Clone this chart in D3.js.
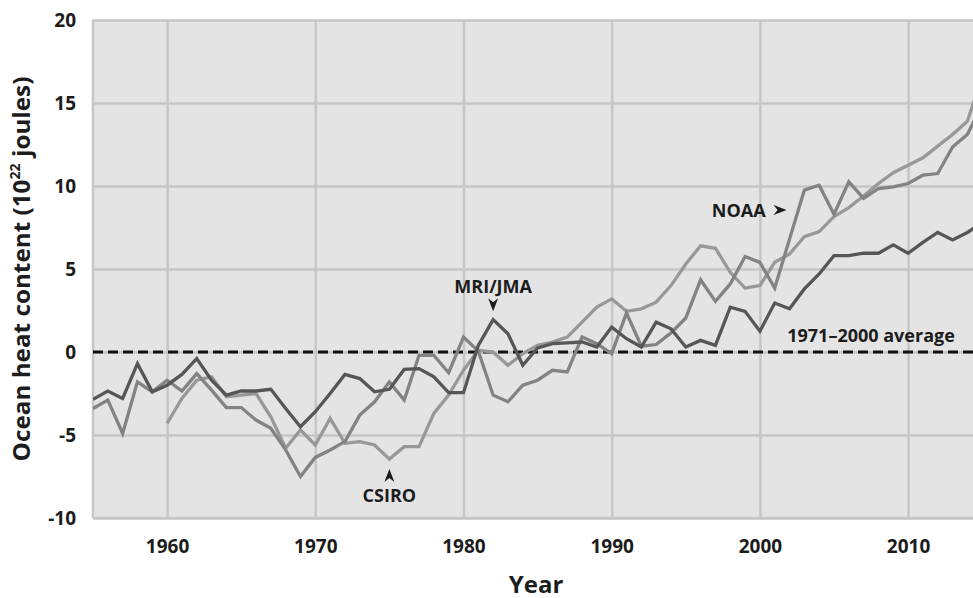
<!DOCTYPE html>
<html>
<head>
<meta charset="utf-8">
<script src="https://cdn.jsdelivr.net/npm/d3@7"></script>
<style>
  html, body { margin: 0; padding: 0; background: #fff; }
  svg { display: block; font-family: "Open Sans", "DejaVu Sans", sans-serif; }
</style>
</head>
<body>
<svg id="chart" width="973" height="598"></svg>
<script>
// ── Data (10^22 joules) ──────────────────────────────────────────────────────

const mriStart   = 1955;
const noaaStart  = 1955;
const csiroStart = 1960;

const mriJma = [
  -2.85, -2.35, -2.8, -0.7, -2.4, -2.0, -1.35, -0.4, -1.7, -2.6,     // 1955-64
  -2.35, -2.35, -2.25, -3.4, -4.5, -3.6, -2.5, -1.35, -1.6, -2.4,    // 1965-74
  -2.25, -1.05, -1.0, -1.5, -2.45, -2.45, 0.4, 1.95, 1.1, -0.8,      // 1975-84
  0.25, 0.5, 0.55, 0.6, 0.3, 1.5, 0.8, 0.3, 1.8, 1.4,                // 1985-94
  0.3, 0.7, 0.4, 2.7, 2.45, 1.25, 2.95, 2.6, 3.8, 4.7,               // 1995-04
  5.8, 5.8, 5.95, 5.95, 6.45, 5.95, 6.6, 7.2, 6.75, 7.2, 7.8         // 2005-15
];

const noaa = [
  -3.4, -2.9, -4.9, -1.8, -2.4, -1.7, -2.35, -1.3, -2.3, -3.35,      // 1955-64
  -3.35, -4.1, -4.6, -5.9, -7.5, -6.35, -5.9, -5.4, -3.8, -3.0,      // 1965-74
  -1.8, -2.9, -0.2, -0.2, -1.25, 0.9, 0.05, -2.6, -3.0, -2.0,        // 1975-84
  -1.7, -1.1, -1.2, 0.9, 0.5, -0.1, 2.35, 0.35, 0.45, 1.15,          // 1985-94
  2.05, 4.35, 3.05, 4.1, 5.75, 5.4, 3.85, 6.8, 9.75, 10.05,          // 1995-04
  8.3, 10.25, 9.25, 9.85, 9.95, 10.15, 10.65, 10.75, 12.35, 13.1, 14.9 // 2005-15
];

const csiro = [
  -4.3, -2.8, -1.7, -1.5, -2.7, -2.6, -2.5, -3.9, -5.8, -4.7,        // 1960-69
  -5.6, -4.0, -5.5, -5.4, -5.6, -6.45, -5.7, -5.7, -3.7, -2.6,       // 1970-79
  -1.1, 0.1, 0.0, -0.8, -0.1, 0.4, 0.6, 0.9, 1.8, 2.7,               // 1980-89
  3.2, 2.45, 2.6, 3.0, 4.0, 5.3, 6.4, 6.25, 4.8, 3.85,               // 1990-99
  4.0, 5.4, 5.9, 6.95, 7.25, 8.15, 8.7, 9.4, 10.15, 10.8,            // 2000-09
  11.25, 11.7, 12.4, 13.1, 13.9, 16.6                                // 2010-15
];

const xTicks = [1960, 1970, 1980, 1990, 2000, 2010];
const yTicks = [-10, -5, 0, 5, 10, 15, 20];
const averageValue = 0;

// ── Layout ───────────────────────────────────────────────────────────────────

const W = 973, H = 598;
const margin = { top: 20, right: 0, bottom: 80, left: 93 };
const iw = W - margin.left - margin.right;
const ih = H - margin.top - margin.bottom;

const INK  = '#1c1c1c';
const GRID = '#c6c6c6';

const svg = d3.select('#chart');
const g = svg.append('g').attr('transform', `translate(${margin.left},${margin.top})`);

const x = d3.scaleLinear().domain([1955, 2014.38]).range([0, iw]);
const y = d3.scaleLinear().domain([-10, 20]).range([ih, 0]);

// Plot background
g.append('rect').attr('width', iw).attr('height', ih).attr('fill', '#e4e4e4');

// Horizontal grid + y labels
g.append('g')
  .call(d3.axisLeft(y).tickValues(yTicks).tickSize(-iw).tickPadding(17).tickFormat(d => String(d)))
  .call(a => a.select('.domain').remove())
  .call(a => a.selectAll('line').attr('stroke', GRID).attr('stroke-width', 2.5))
  .call(a => a.selectAll('text')
    .attr('fill', INK).attr('font-size', 19).attr('font-weight', 700)
    .attr('font-family', '"Open Sans", sans-serif'));

// Vertical grid + x labels
g.append('g')
  .attr('transform', `translate(0,${ih})`)
  .call(d3.axisBottom(x).tickValues(xTicks).tickSize(-ih).tickPadding(22).tickFormat(d => String(d)))
  .call(a => a.select('.domain').remove())
  .call(a => a.selectAll('line').attr('stroke', GRID).attr('stroke-width', 2.5))
  .call(a => a.selectAll('text')
    .attr('fill', INK).attr('font-size', 19).attr('font-weight', 700)
    .attr('font-family', '"Open Sans", sans-serif'));

// Left frame
g.append('line')
  .attr('x1', x(1955)).attr('x2', x(1955))
  .attr('y1', y(-10)).attr('y2', y(20))
  .attr('stroke', GRID).attr('stroke-width', 2.5);

// Bottom frame redrawn over the verticals
g.append('line').attr('x1', 0).attr('x2', iw).attr('y1', y(-10)).attr('y2', y(-10))
  .attr('stroke', GRID).attr('stroke-width', 2.5);

// ── Series ───────────────────────────────────────────────────────────────────

g.append('clipPath').attr('id', 'plot-clip')
  .append('rect').attr('width', iw).attr('height', ih);

function toPoints(start, values) {
  return values.map((v, i) => ({ year: start + i, value: v }));
}

const series = [
  { name: 'CSIRO',   pts: toPoints(csiroStart, csiro),  color: '#989898' },
  { name: 'NOAA',    pts: toPoints(noaaStart, noaa),    color: '#838383' },
  { name: 'MRI/JMA', pts: toPoints(mriStart, mriJma),   color: '#565656' },
];

// 1971–2000 average line (dashed)
g.append('line')
  .attr('x1', 0).attr('x2', iw)
  .attr('y1', y(averageValue)).attr('y2', y(averageValue))
  .attr('stroke', '#111').attr('stroke-width', 3)
  .attr('stroke-dasharray', '10,5');

const line = d3.line().x(d => x(d.year)).y(d => y(d.value));

g.append('g').attr('clip-path', 'url(#plot-clip)')
  .selectAll('path.series')
  .data(series)
  .enter().append('path')
  .attr('class', 'series')
  .attr('d', d => line(d.pts))
  .attr('fill', 'none')
  .attr('stroke', d => d.color)
  .attr('stroke-width', 3.3)
  .attr('stroke-linejoin', 'miter');

// ── Annotations ──────────────────────────────────────────────────────────────

const labelFont = { size: 18, weight: 700 };

function label(txt, px, py, anchor) {
  return g.append('text')
    .attr('x', px).attr('y', py)
    .attr('text-anchor', anchor || 'middle')
    .attr('dominant-baseline', 'central')
    .attr('font-size', labelFont.size)
    .attr('font-weight', labelFont.weight)
    .attr('fill', INK)
    .text(txt);
}

// stealth-style arrowhead, tip at (px,py), rotated by angle (deg, 0 = pointing down)
function arrowHead(px, py, angle) {
  g.append('path')
    .attr('d', 'M0,0 L-5,-13 L0,-9 L5,-13 Z')
    .attr('transform', `translate(${px},${py}) rotate(${angle})`)
    .attr('fill', INK);
}

label('MRI/JMA', x(1982), y(3.95));
arrowHead(x(1982), y(2.45), 0);

label('CSIRO', x(1975), y(-8.6));
arrowHead(x(1975), y(-7.05), 180);

label('NOAA', x(2001.8) - 21, y(8.55), 'end');
arrowHead(x(2001.8), y(8.55), -90);

label('1971\u20132000 average', x(2007.5), y(1.0));

// ── Axis titles ──────────────────────────────────────────────────────────────

svg.append('text')
  .attr('x', margin.left + x(1984.9)).attr('y', 583)
  .attr('text-anchor', 'middle').attr('dominant-baseline', 'central')
  .attr('font-size', 24).attr('font-weight', 700).attr('fill', INK)
  .text('Year');

const yt = svg.append('text')
  .attr('text-anchor', 'middle')
  .attr('font-size', 24).attr('font-weight', 700).attr('fill', INK);
yt.append('tspan').text('Ocean heat content (10');
yt.append('tspan').attr('font-size', 14).attr('dy', '-0.7em').text('22');
yt.append('tspan').attr('dy', '0.42em').text('\u00a0joules)');

const natural = yt.node().getComputedTextLength();
const sx = 385 / natural;
yt.attr('transform', `translate(30,${margin.top + y(5)}) rotate(-90) scale(${sx},1)`);
</script>
</body>
</html>
